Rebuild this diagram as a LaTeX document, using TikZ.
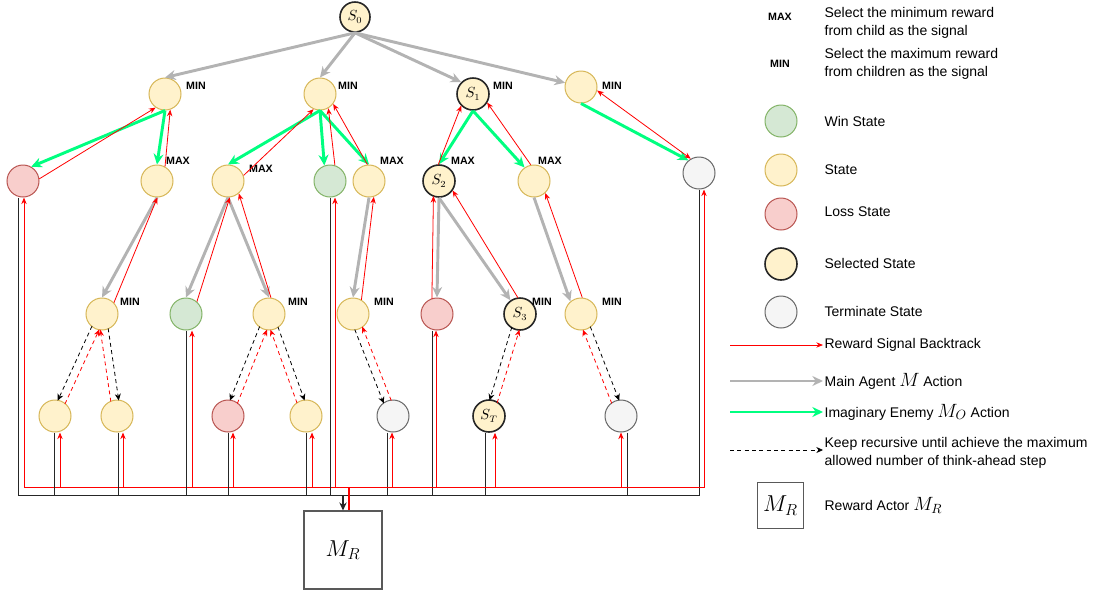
\documentclass[tikz,border=0pt]{standalone}
\usepackage[no-math]{fontspec}
\setmainfont{Liberation Sans}
\usetikzlibrary{arrows.meta,calc}
\definecolor{statefill}{HTML}{FFF2CC}
\definecolor{stateline}{HTML}{D6B656}
\definecolor{winfill}{HTML}{D5E8D4}
\definecolor{winline}{HTML}{82B366}
\definecolor{lossfill}{HTML}{F8CECC}
\definecolor{lossline}{HTML}{B85450}
\definecolor{termfill}{HTML}{F5F5F5}
\definecolor{termline}{HTML}{666666}
\definecolor{actgray}{HTML}{B3B3B3}
\definecolor{enemygreen}{HTML}{00FF80}
\tikzset{rtip/.tip={Stealth[length=5pt,width=4pt]}}
% line beside the centre line of two nodes, #4 = side offset
\newcommand{\offlink}[4][]{\draw[#1] ($(#2)!#4!-90:(#3)$) -- ($(#3)!#4!90:(#2)$);}
% bigger math in the legend
\newcommand{\kmath}[1]{{\fontsize{14}{14}\selectfont$#1$}}

\begin{document}
\begin{tikzpicture}[x=0.75pt, y=-0.75pt,
    every node/.style={font=\fontsize{10.5}{13.5}\selectfont},
    state/.style={circle, draw=stateline, fill=statefill, minimum size=24pt, inner sep=0pt, line width=0.75pt},
    win/.style={state, draw=winline, fill=winfill},
    loss/.style={state, draw=lossline, fill=lossfill},
    term/.style={state, draw=termline, fill=termfill},
    picked/.style={state, draw=black!85, line width=1.2pt},
    lbl/.style={font=\fontsize{8}{9}\selectfont\bfseries, inner sep=0pt},
    mainact/.style={draw=actgray, line width=2.2pt, -{Stealth[length=8pt,width=7.5pt]}},
    enemy/.style={mainact, draw=enemygreen},
    reward/.style={draw=red, line width=0.6pt, -rtip},
    back/.style={reward, shorten <=11.3pt, shorten >=11.3pt},
    recur/.style={draw=black, line width=0.6pt, dash pattern=on 3pt off 2.5pt,
        -{Stealth[length=5pt,width=4.5pt]}, shorten <=11.3pt, shorten >=11.3pt},
    recurback/.style={back, dash pattern=on 3pt off 2.5pt},
    feed/.style={draw=black!85, line width=0.75pt},
    rise/.style={reward, line width=0.6pt},
    actor/.style={rectangle, draw=black!65, line width=0.8pt, minimum size=58.5pt, inner sep=0pt, font=\LARGE},
    keytext/.style={anchor=west, align=left, inner sep=1pt},
]
\useasboundingbox (0,0) rectangle (1096,594);

% Tree nodes
\node[picked, minimum size=22.5pt] (S0) at (355,17) {$S_0$};
\node[state] (A1) at (165,94) {};
\node[state] (A2) at (320,94) {};
\node[picked] (S1) at (473,94) {$S_1$};
\node[state] (A4) at (581,87) {};

\node[loss] (B1) at (23,181) {};
\node[state] (B2) at (157,181) {};
\node[state] (B3) at (228,181) {};
\node[win] (B4) at (330,181) {};
\node[state] (B5) at (369,181) {};
\node[picked] (S2) at (439,181) {$S_2$};
\node[state] (B7) at (534,181) {};
\node[term] (B8) at (699,173) {};

\node[state] (C1) at (102,314) {};
\node[win] (C2) at (186,314) {};
\node[state] (C3) at (269,314) {};
\node[state] (C4) at (353,314) {};
\node[loss] (C5) at (437,314) {};
\node[picked] (S3) at (520,314) {$S_3$};
\node[state] (C7) at (581,314) {};

\node[state] (D1) at (55,416) {};
\node[state] (D2) at (117,416) {};
\node[loss] (D3) at (228,416) {};
\node[state] (D4) at (306,416) {};
\node[term] (D5) at (393,416) {};
\node[picked] (ST) at (489,416) {$S_T$};
\node[term] (D7) at (621,416) {};

% MIN / MAX marks
\node[lbl] (mA1) at (196,86) {MIN};
\node[lbl] (mA2) at (348,86) {MIN};
\node[lbl] (mS1) at (503,86) {MIN};
\node[lbl] (mA4) at (612,86) {MIN};
\node[lbl] (mB2) at (178,161) {MAX};
\node[lbl] (mB3) at (261,169) {MAX};
\node[lbl] (mB5) at (392,161) {MAX};
\node[lbl] (mS2) at (463,161) {MAX};
\node[lbl] (mB7) at (550,161) {MAX};
\node[lbl] (mC1) at (130,302) {MIN};
\node[lbl] (mC3) at (298,302) {MIN};
\node[lbl] (mC4) at (384,302) {MIN};
\node[lbl] (mS3) at (542,302) {MIN};
\node[lbl] (mC7) at (612,302) {MIN};

% Main agent actions
\draw[mainact] (S0.south) -- (A1.north);
\draw[mainact] (S0.south) -- (A2.north);
\draw[mainact] (S0.south) -- (S1.135);
\draw[mainact] (S0.south) -- (A4.165);
\draw[mainact] (B2.south) -- (C1.north);
\draw[mainact] (B3.south) -- (C2.north);
\draw[mainact] (B3.south) -- (C3.north);
\draw[mainact] (B5.south) -- (C4.north);
\draw[mainact] (S2.south) -- (C5.north);
\draw[mainact] (S2.south) -- (S3.125);
\draw[mainact] (B7.south) -- (C7.130);

% Enemy actions
\draw[enemy] (A1.south) -- (B1.60);
\draw[enemy] (A1.south) -- (B2.north);
\draw[enemy] (A2.south) -- (B3.north);
\draw[enemy] (A2.south) -- (B4.110);
\draw[enemy] (A2.south) -- (B5.north);
\draw[enemy] (S1.south) -- (S2.north);
\draw[enemy] (S1.south) -- (B7.125);
\draw[enemy] (A4.south) -- (B8.130);

% Reward backtrack
\offlink[back]{B1}{A1}{5pt}
\offlink[back]{B2}{A1}{5pt}
\offlink[back]{B3}{A2}{5pt}
\offlink[back]{B4}{A2}{5pt}
\offlink[back]{B5}{A2}{5pt}
\offlink[back]{S2}{S1}{-5pt}
\offlink[back]{B7}{S1}{5pt}
\offlink[back, rtip-rtip]{B8}{A4}{5pt}
\offlink[back]{C1}{B2}{5pt}
\offlink[back]{C2}{B3}{5pt}
\offlink[back]{C3}{B3}{5pt}
\offlink[back]{C4}{B5}{5pt}
\offlink[back]{C5}{S2}{-4pt}
\offlink[back]{S3}{S2}{5pt}
\offlink[back]{C7}{B7}{5pt}

% Recursive think-ahead steps
\offlink[recur]{C1}{D1}{3pt}      \offlink[recurback]{D1}{C1}{3pt}
\offlink[recur]{C1}{D2}{-3pt}     \offlink[recurback]{D2}{C1}{-3pt}
\offlink[recur]{C3}{D3}{3pt}      \offlink[recurback]{D3}{C3}{3pt}
\offlink[recur]{C3}{D4}{-3pt}     \offlink[recurback]{D4}{C3}{-3pt}
\offlink[recur]{C4}{D5}{3pt}      \offlink[recurback]{D5}{C4}{3pt}
\offlink[recur]{S3}{ST}{3pt}      \offlink[recurback]{ST}{S3}{3pt}
\offlink[recur]{C7}{D7}{-3pt}     \offlink[recurback]{D7}{C7}{-3pt}

% Reward actor and buses
\node[actor] (MR) at (343,550) {$M_R$};
\coordinate (blackhub) at (343,495);
\coordinate (redhub) at (349,487);
\foreach \n/\b/\r in {B1/-3.75/0.75, D1/-0.75/3.75, D2/0.75/4.5, C2/0/4.5, D3/0/3.75,
    D4/0/4.5, B4/0/3.75, D5/-4.5/-0.75, C5/-3.75/-0.75, ST/-3/4.5, D7/4.5/0, B8/0/3.75}{
  \draw[feed] ([xshift=\b pt]\n.south) |- (blackhub);
  \draw[rise] (redhub) -| ([xshift=\r pt]\n.south);
}
\draw[feed, line width=1.1pt, -{Stealth[length=6pt,width=5.5pt]}] (blackhub) -- (MR.north);
\draw[red, line width=1.6pt] (redhub) -- ([xshift=4.5pt]MR.north);

% Legend
\node[lbl] (kmax) at (780,17) {MAX};
\node[keytext] (kmaxtxt) at (823,23) {Select the minimum reward\\from child as the signal};
\node[lbl] (kmin) at (780,64) {MIN};
\node[keytext] (kmintxt) at (823,64) {Select the maximum reward\\from children as the signal};
\node[win] (kwin) at (781,121) {};
\node[keytext] (kwintxt) at (823,121) {Win State};
\node[state] (kstate) at (781,170) {};
\node[keytext] (kstatetxt) at (823,170) {State};
\node[loss] (kloss) at (781,214) {};
\node[keytext] (klosstxt) at (823,212) {Loss State};
\node[picked] (kpick) at (781,264) {};
\node[keytext] (kpicktxt) at (823,263) {Selected State};
\node[term] (kterm) at (781,312) {};
\node[keytext] (ktermtxt) at (823,311) {Terminate State};

\node[keytext] (krewtxt) at (823,345) {Reward Signal Backtrack};
\coordinate (krew) at (730,345);
\draw[reward] (krew) -- (krewtxt);
\node[keytext] (kmaintxt) at (823,381) {Main Agent \kmath{M} Action};
\coordinate (kmain) at (730,381);
\draw[mainact] (kmain) -- (kmaintxt);
\node[keytext] (kenemytxt) at (823,412) {Imaginary Enemy \kmath{M_O} Action};
\coordinate (kenemy) at (730,412);
\draw[enemy] (kenemy) -- (kenemytxt);
\node[keytext] (krectxt) at (823,453) {Keep recursive until achieve the maximum\\allowed number of think-ahead step};
\coordinate (krec) at (730,450);
\draw[recur, shorten <=0pt, shorten >=0pt] (krec) -- (823,450);
\node[actor, minimum size=35pt] (kmr) at (780.5,505.5) {$M_R$};
\node[keytext] (kmrtxt) at (823,505) {Reward Actor \kmath{M_R}};

\end{tikzpicture}
\end{document}
